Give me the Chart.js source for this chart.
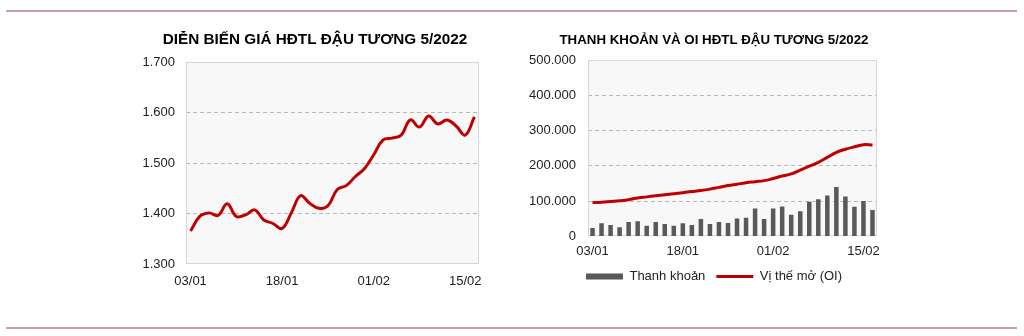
<!DOCTYPE html>
<html>
<head>
<meta charset="utf-8">
<script src="https://cdn.jsdelivr.net/npm/chart.js@4"></script>
<style>
  html, body { margin: 0; padding: 0; background: #fff; }
  body { width: 1024px; height: 336px; position: relative; overflow: hidden; }
  .rule { position: absolute; left: 6px; width: 1011px; height: 2px; background: #c4a2a2; }
  .box { position: absolute; }
</style>
</head>
<body>
<div class="rule" style="top:10px"></div>
<div class="rule" style="top:327px"></div>
<div class="box" style="left:140px; top:20px; width:350px; height:275px;"><canvas id="priceChart"></canvas></div>
<div class="box" style="left:526px; top:20px; width:376px; height:280px;"><canvas id="volumeChart"></canvas></div>
<script>
// Ngày giao dịch (trục hoành)
const dates = ['03/01','04/01','05/01','06/01','07/01','10/01','11/01','12/01','13/01','14/01',
  '18/01','19/01','20/01','21/01','24/01','25/01','26/01','27/01','28/01','31/01',
  '01/02','02/02','03/02','04/02','07/02','08/02','09/02','10/02','11/02','14/02',
  '15/02','16/02'];
const shownDates = ['03/01', '18/01', '01/02', '15/02'];

// Giá HĐTL đậu tương 5/2022
const prices = [1366, 1395, 1402, 1397, 1420, 1395, 1398, 1408, 1388, 1381,
  1371, 1402, 1436, 1421, 1411, 1416, 1448, 1456, 1474, 1490,
  1517, 1546, 1550, 1556, 1586, 1572, 1594, 1578, 1586, 1574,
  1556, 1592];
const priceTicks = [1300, 1400, 1500, 1600, 1700];

// Thanh khoản và vị thế mở
const volume = [24000, 37000, 32000, 26000, 41000, 43000, 30000, 41000, 35000, 30000,
  37000, 32000, 49000, 35000, 41000, 38000, 51000, 53000, 79000, 49000,
  79000, 85000, 61000, 71000, 98000, 105000, 116000, 140000, 113000, 84000,
  100000, 75000];
const openInterest = [96000, 97000, 99000, 101000, 104000, 109000, 112000, 115000, 118000, 121000,
  124000, 127000, 130000, 134000, 139000, 144000, 148000, 152000, 155000, 158000,
  164000, 171000, 177000, 188000, 199000, 210000, 224000, 238000, 247000, 254000,
  260000, 259000];
const volumeTicks = [0, 100000, 200000, 300000, 400000, 500000];

const RED = '#c00000';
const FONT = 'Liberation Sans, Arial, sans-serif';

const fmt = (v) => String(v).replace(/\B(?=(\d{3})+(?!\d))/g, '.');

// nền xám nhạt + khung vùng vẽ
const plotFrame = {
  id: 'plotFrame',
  beforeDraw(chart) {
    const { ctx, chartArea: a } = chart;
    ctx.save();
    ctx.fillStyle = '#f8f8f8';
    ctx.fillRect(a.left, a.top, a.width, a.height);
    ctx.restore();
  },
  beforeDatasetsDraw(chart) {
    const { ctx, chartArea: a } = chart;
    ctx.save();
    ctx.strokeStyle = '#d6d6d6';
    ctx.lineWidth = 1;
    ctx.strokeRect(Math.round(a.left) + 0.5, Math.round(a.top) + 0.5,
      Math.round(a.width) - 1, Math.round(a.height) - 1);
    ctx.restore();
  }
};

const xAxis = (pad) => ({
  offset: true,
  grid: { display: false, drawTicks: false },
  border: { display: false },
  afterFit(scale) { scale.height = pad + 15.6; },
  ticks: {
    autoSkip: false, maxRotation: 0, minRotation: 0, padding: pad,
    color: '#222', font: { family: FONT, size: 13 },
    callback(v, i) { return shownDates.includes(dates[i]) ? dates[i] : ''; }
  }
});

const yAxis = (ticks, width, pad) => ({
  min: ticks[0],
  max: ticks[ticks.length - 1],
  afterBuildTicks(scale) { scale.ticks = ticks.map(v => ({ value: v })); },
  afterFit(scale) { scale.width = width; },
  border: { display: false, dash: [4, 3] },
  grid: {
    drawTicks: false,
    color: (c) => (c.tick.value === ticks[0] || c.tick.value === ticks[ticks.length - 1]) ? 'rgba(0,0,0,0)' : '#b8b8b8'
  },
  ticks: { padding: pad, color: '#222', font: { family: FONT, size: 13 }, callback: (v) => fmt(v) }
});

// trục phải trống, chỉ để chừa khoảng bên phải
const spacer = (width) => ({
  type: 'linear',
  position: 'right',
  grid: { display: false, drawTicks: false },
  border: { display: false },
  ticks: { display: false },
  afterFit(scale) { scale.width = width; }
});

new Chart(document.getElementById('priceChart'), {
  type: 'line',
  data: {
    labels: dates,
    datasets: [{
      label: 'Giá',
      data: prices,
      borderColor: RED,
      borderWidth: 3,
      pointRadius: 0,
      tension: 0.4,
      fill: false
    }]
  },
  options: {
    responsive: true,
    maintainAspectRatio: false,
    animation: false,
    layout: { padding: { left: 0, right: 0, top: 0, bottom: 6 } },
    plugins: {
      legend: { display: false },
      tooltip: { enabled: false },
      title: {
        display: true,
        text: 'DIỄN BIẾN GIÁ HĐTL ĐẬU TƯƠNG 5/2022',
        color: '#000',
        font: { family: FONT, size: 15.3, weight: 'bold' },
        padding: { top: 11, bottom: 13 }
      }
    },
    scales: {
      x: xAxis(9),
      y: yAxis(priceTicks, 46, 11),
      yR: spacer(11)
    }
  },
  plugins: [plotFrame]
});

new Chart(document.getElementById('volumeChart'), {
  type: 'bar',
  data: {
    labels: dates,
    datasets: [{
      type: 'bar',
      label: 'Thanh khoản',
      data: volume,
      backgroundColor: '#595959',
      barPercentage: 0.5,
      categoryPercentage: 1
    }, {
      type: 'line',
      label: 'Vị thế mở (OI)',
      data: openInterest,
      borderColor: RED,
      backgroundColor: RED,
      borderWidth: 3,
      pointRadius: 0,
      tension: 0.4,
      fill: false
    }]
  },
  options: {
    responsive: true,
    maintainAspectRatio: false,
    animation: false,
    layout: { padding: { left: 0, right: 0, top: 0, bottom: 7 } },
    plugins: {
      tooltip: { enabled: false },
      title: {
        display: true,
        text: 'THANH KHOẢN VÀ OI HĐTL ĐẬU TƯƠNG 5/2022',
        color: '#000',
        font: { family: FONT, size: 13.3, weight: 'bold' },
        padding: { top: 12, bottom: 12 }
      },
      legend: {
        position: 'bottom',
        labels: {
          color: '#222',
          font: { family: FONT, size: 13 },
          padding: 11,
          usePointStyle: true,
          pointStyleWidth: 37,
          boxHeight: 6,
          generateLabels(chart) {
            const items = Chart.defaults.plugins.legend.labels.generateLabels(chart);
            items[0].pointStyle = 'rect';
            items[0].lineWidth = 0;
            items[0].strokeStyle = 'rgba(0,0,0,0)';
            items[1].pointStyle = 'line';
            items[1].lineWidth = 3;
            items[1].strokeStyle = RED;
            return items;
          }
        }
      }
    },
    scales: {
      x: xAxis(7),
      y: yAxis(volumeTicks, 62, 12),
      yR: spacer(25)
    }
  },
  plugins: [plotFrame]
});
</script>
</body>
</html>
